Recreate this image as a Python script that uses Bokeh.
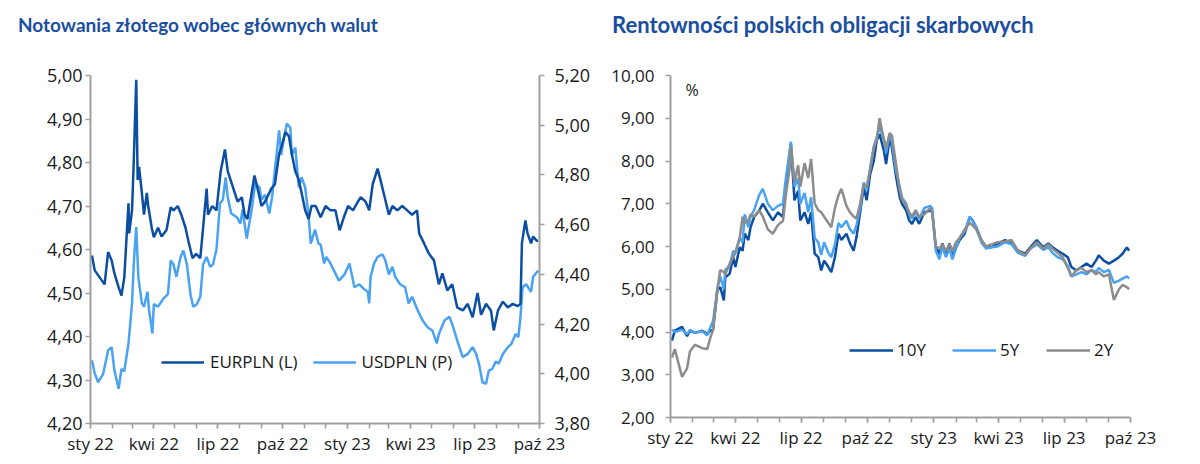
import pandas as pd
from bokeh.plotting import figure
from bokeh.layouts import row, column
from bokeh.models import (ColumnDataSource, Range1d, LinearAxis, FixedTicker, CustomJSTickFormatter,
                          Legend, LegendItem, Label, Div)
from bokeh.embed import file_html
from bokeh.resources import INLINE

# ---------------- data: left chart ----------------
eur_dates = ["2022-01-03", "2022-01-07", "2022-01-17", "2022-01-21", "2022-01-26", "2022-01-31", "2022-02-04",
             "2022-02-10", "2022-02-14", "2022-02-18", "2022-02-24", "2022-02-25", "2022-03-01", "2022-03-03",
             "2022-03-07", "2022-03-09", "2022-03-11", "2022-03-15", "2022-03-18", "2022-03-22", "2022-03-24",
             "2022-03-29", "2022-04-01", "2022-04-07", "2022-04-12", "2022-04-19", "2022-04-25", "2022-04-29",
             "2022-05-05", "2022-05-10", "2022-05-16", "2022-05-20", "2022-05-26", "2022-05-31", "2022-06-06",
             "2022-06-10", "2022-06-15", "2022-06-17", "2022-06-23", "2022-06-29", "2022-07-05", "2022-07-11",
             "2022-07-15", "2022-07-19", "2022-07-25", "2022-07-29", "2022-08-04", "2022-08-08", "2022-08-12",
             "2022-08-18", "2022-08-22", "2022-08-25", "2022-09-01", "2022-09-06", "2022-09-15", "2022-09-20",
             "2022-09-26", "2022-09-30", "2022-10-05", "2022-10-10", "2022-10-14", "2022-10-19", "2022-10-24",
             "2022-10-28", "2022-11-02", "2022-11-07", "2022-11-11", "2022-11-17", "2022-11-24", "2022-12-01",
             "2022-12-08", "2022-12-15", "2022-12-21", "2022-12-27",
             "2023-01-02", "2023-01-09", "2023-01-16", "2023-01-20", "2023-01-27", "2023-02-01", "2023-02-06",
             "2023-02-13", "2023-02-17", "2023-02-23", "2023-03-01", "2023-03-06", "2023-03-13", "2023-03-20",
             "2023-03-27", "2023-04-03", "2023-04-10", "2023-04-13", "2023-04-20", "2023-04-27", "2023-05-04",
             "2023-05-11", "2023-05-16", "2023-05-23", "2023-05-30", "2023-06-06", "2023-06-14", "2023-06-21",
             "2023-06-28", "2023-07-05", "2023-07-10", "2023-07-17", "2023-07-24", "2023-07-28", "2023-08-03",
             "2023-08-10", "2023-08-17", "2023-08-24", "2023-08-31", "2023-09-04", "2023-09-06", "2023-09-11",
             "2023-09-14", "2023-09-19", "2023-09-22", "2023-09-27", "2023-09-29"]
eurpln = [4.586, 4.552, 4.529, 4.52, 4.594, 4.575, 4.545,
          4.513, 4.494, 4.536, 4.706, 4.637, 4.69, 4.78,
          4.99, 4.76, 4.79, 4.73, 4.68, 4.73, 4.70,
          4.65, 4.628, 4.65, 4.63, 4.645, 4.697, 4.69,
          4.70, 4.68, 4.65, 4.62, 4.58, 4.59, 4.58,
          4.65, 4.74, 4.68, 4.70, 4.69, 4.78, 4.83,
          4.78, 4.76, 4.73, 4.71, 4.72, 4.68, 4.67,
          4.73, 4.77, 4.75, 4.70, 4.71, 4.74, 4.75,
          4.82, 4.84, 4.87, 4.86, 4.82, 4.78, 4.76,
          4.73, 4.69, 4.67, 4.70, 4.70, 4.674, 4.70,
          4.69, 4.69, 4.644, 4.674,
          4.70, 4.69, 4.71, 4.72, 4.71, 4.69, 4.75,
          4.786, 4.76, 4.72, 4.68, 4.70, 4.69, 4.70,
          4.69, 4.68, 4.69, 4.637, 4.614, 4.59, 4.575,
          4.52, 4.545, 4.506, 4.52, 4.467, 4.46, 4.475,
          4.444, 4.50, 4.45, 4.475, 4.46, 4.414, 4.46,
          4.48, 4.467, 4.475, 4.47, 4.475, 4.614, 4.667,
          4.637, 4.614, 4.63, 4.62, 4.62]

usd_dates = ["2022-01-03", "2022-01-07", "2022-01-12", "2022-01-19", "2022-01-26", "2022-01-31", "2022-02-04",
             "2022-02-10", "2022-02-14", "2022-02-18", "2022-02-24", "2022-03-01", "2022-03-04", "2022-03-07",
             "2022-03-10", "2022-03-15", "2022-03-18", "2022-03-23", "2022-03-25", "2022-03-30", "2022-04-01",
             "2022-04-07", "2022-04-14", "2022-04-21", "2022-04-25", "2022-04-29", "2022-05-03", "2022-05-09",
             "2022-05-13", "2022-05-18", "2022-05-23", "2022-05-27", "2022-06-01", "2022-06-06", "2022-06-10",
             "2022-06-15", "2022-06-20", "2022-06-24", "2022-06-29", "2022-07-04", "2022-07-08", "2022-07-12",
             "2022-07-15", "2022-07-20", "2022-07-28", "2022-08-02", "2022-08-05", "2022-08-11", "2022-08-18",
             "2022-08-23", "2022-08-29", "2022-09-01", "2022-09-06", "2022-09-12", "2022-09-16", "2022-09-20",
             "2022-09-26", "2022-09-29", "2022-10-03", "2022-10-07", "2022-10-12", "2022-10-14", "2022-10-19",
             "2022-10-24", "2022-10-28", "2022-11-02", "2022-11-07", "2022-11-10", "2022-11-16", "2022-11-21",
             "2022-11-24", "2022-11-29", "2022-12-02", "2022-12-08", "2022-12-13", "2022-12-20", "2022-12-28",
             "2023-01-04", "2023-01-11", "2023-01-18", "2023-01-25", "2023-01-30", "2023-02-01", "2023-02-03",
             "2023-02-08", "2023-02-13", "2023-02-20", "2023-02-24", "2023-03-01", "2023-03-06", "2023-03-10",
             "2023-03-17", "2023-03-24", "2023-03-29", "2023-04-03", "2023-04-11", "2023-04-18", "2023-04-25",
             "2023-05-02", "2023-05-08", "2023-05-11", "2023-05-19", "2023-05-26", "2023-05-30", "2023-06-06",
             "2023-06-14", "2023-06-21", "2023-06-28", "2023-07-03", "2023-07-07", "2023-07-12", "2023-07-17",
             "2023-07-21", "2023-07-26", "2023-07-31", "2023-08-04", "2023-08-10", "2023-08-17", "2023-08-22",
             "2023-08-28", "2023-09-01", "2023-09-04", "2023-09-07", "2023-09-12", "2023-09-19", "2023-09-22",
             "2023-09-29"]
usdpln = [4.054, 4.001, 3.966, 4.00, 4.094, 4.107, 4.013,
          3.94, 4.02, 4.01, 4.122, 4.283, 4.469, 4.59,
          4.389, 4.283, 4.27, 4.33, 4.26, 4.162, 4.28,
          4.27, 4.30, 4.32, 4.456, 4.44, 4.39, 4.47,
          4.496, 4.44, 4.32, 4.27, 4.28, 4.31, 4.44,
          4.47, 4.43, 4.44, 4.50, 4.685, 4.70, 4.79,
          4.71, 4.645, 4.63, 4.604, 4.66, 4.544, 4.66,
          4.766, 4.75, 4.70, 4.72, 4.645, 4.71, 4.818,
          4.979, 4.88, 4.95, 5.007, 4.99, 4.88, 4.91,
          4.75, 4.79, 4.75, 4.63, 4.524, 4.58, 4.524,
          4.52, 4.444, 4.47, 4.444, 4.415, 4.375, 4.40,
          4.444, 4.348, 4.36, 4.34, 4.33, 4.283, 4.39,
          4.444, 4.47, 4.48, 4.456, 4.40, 4.43, 4.39,
          4.36, 4.348, 4.283, 4.31, 4.255, 4.214, 4.187,
          4.173, 4.122, 4.16, 4.214, 4.23, 4.20, 4.134,
          4.067, 4.08, 4.107, 4.08, 4.04, 3.966, 3.96,
          4.013, 4.02, 4.05, 4.04, 4.08, 4.107, 4.12,
          4.16, 4.147, 4.23, 4.348, 4.36, 4.33, 4.39,
          4.415]

# ---------------- data: right chart ----------------
bond_dates = ["2022-01-03", "2022-01-07", "2022-01-17", "2022-01-24", "2022-01-28",
              "2022-02-04", "2022-02-14", "2022-02-21", "2022-02-25",
              "2022-03-01", "2022-03-07", "2022-03-11", "2022-03-16", "2022-03-18", "2022-03-24", "2022-03-29",
              "2022-04-01", "2022-04-07", "2022-04-11", "2022-04-14", "2022-04-19", "2022-04-22", "2022-04-27",
              "2022-05-04", "2022-05-09", "2022-05-16", "2022-05-23", "2022-05-30",
              "2022-06-06", "2022-06-10", "2022-06-15", "2022-06-17", "2022-06-22", "2022-06-27", "2022-06-30",
              "2022-07-06", "2022-07-11", "2022-07-15", "2022-07-20", "2022-07-25", "2022-07-29",
              "2022-08-02", "2022-08-08", "2022-08-12", "2022-08-17", "2022-08-22", "2022-08-26",
              "2022-09-02", "2022-09-07", "2022-09-12", "2022-09-16", "2022-09-21", "2022-09-26", "2022-09-30",
              "2022-10-05", "2022-10-10", "2022-10-14", "2022-10-18", "2022-10-24", "2022-10-27",
              "2022-11-01", "2022-11-04", "2022-11-10", "2022-11-15", "2022-11-18", "2022-11-24", "2022-11-28",
              "2022-12-02", "2022-12-07", "2022-12-12", "2022-12-19", "2022-12-27", "2022-12-30",
              "2023-01-04", "2023-01-09", "2023-01-13", "2023-01-18", "2023-01-23", "2023-01-27",
              "2023-02-01", "2023-02-06", "2023-02-13", "2023-02-20", "2023-02-24",
              "2023-03-01", "2023-03-08", "2023-03-15", "2023-03-22", "2023-03-31",
              "2023-04-10", "2023-04-19", "2023-04-28",
              "2023-05-08", "2023-05-15", "2023-05-24",
              "2023-06-02", "2023-06-09", "2023-06-15", "2023-06-22", "2023-06-29",
              "2023-07-06", "2023-07-11", "2023-07-18", "2023-07-25",
              "2023-08-01", "2023-08-08", "2023-08-14", "2023-08-18", "2023-08-25",
              "2023-09-01", "2023-09-08", "2023-09-15", "2023-09-20", "2023-09-26", "2023-09-29"]
y10 = [3.80, 4.03, 4.12, 3.90, 4.03,
       3.98, 4.03, 3.95, 4.03,
       4.05, 4.97, 5.05, 4.74, 5.28, 5.36, 5.75,
       5.52, 5.98, 5.90, 6.30, 6.15, 6.45, 6.69,
       6.84, 7.00, 6.80, 6.61, 6.80,
       6.69, 7.47, 8.09, 8.40, 7.08, 7.30, 6.61,
       6.80, 6.53, 6.80, 5.83, 5.75, 5.44,
       5.67, 5.52, 5.40, 5.75, 6.30, 6.15,
       6.30, 6.07, 5.90, 6.22, 6.80, 7.39, 7.08,
       7.70, 8.01, 8.48, 8.63, 8.24, 7.93,
       8.55, 8.32, 7.62, 7.15, 7.00, 6.84, 6.61,
       6.53, 6.69, 6.53, 6.80, 6.84, 6.80,
       5.98, 5.83, 6.07, 5.83, 6.07, 5.75,
       5.98, 6.15, 6.30, 6.69, 6.61,
       6.45, 6.15, 5.98, 5.98, 6.07,
       6.15, 6.07, 5.90,
       5.83, 5.98, 6.15,
       5.98, 6.07, 5.98, 5.90, 5.83,
       5.75, 5.52, 5.44, 5.52,
       5.60, 5.52, 5.67, 5.79, 5.67,
       5.60, 5.67, 5.75, 5.83, 5.98, 5.90]
y5 = [4.05, 4.00, 4.05, 3.95, 4.05,
      3.98, 4.02, 3.92, 4.10,
      4.25, 5.00, 5.30, 5.00, 5.45, 5.55, 5.90,
      5.85, 6.20, 6.10, 6.75, 6.45, 6.70, 6.85,
      7.20, 7.35, 7.00, 6.85, 6.95,
      7.00, 7.60, 8.20, 8.45, 7.40, 7.60, 7.00,
      7.25, 6.80, 7.15, 6.20, 6.10, 5.80,
      6.10, 5.85, 5.75, 6.05, 6.55, 6.45,
      6.60, 6.40, 6.30, 6.50, 6.90, 7.50, 7.30,
      7.85, 8.35, 8.55, 8.80, 8.50, 8.20,
      8.65, 8.45, 7.75, 7.40, 7.15, 7.00, 6.75,
      6.65, 6.80, 6.65, 6.90, 6.95, 6.90,
      5.90, 5.70, 6.00, 5.75, 5.95, 5.70,
      5.95, 6.20, 6.35, 6.70, 6.60,
      6.45, 6.10, 5.95, 5.98, 6.00,
      6.10, 6.05, 5.85,
      5.78, 5.95, 6.05,
      5.92, 5.98, 5.85, 5.75, 5.70,
      5.55, 5.30, 5.35, 5.40,
      5.35, 5.45, 5.40, 5.50, 5.40,
      5.45, 5.15, 5.20, 5.25, 5.30, 5.25]
y2 = [3.40, 3.60, 2.95, 3.15, 3.55,
      3.70, 3.62, 3.60, 3.85,
      4.05, 5.00, 5.45, 5.40, 5.35, 5.60, 5.75,
      5.85, 6.20, 6.70, 6.55, 6.60, 6.75, 6.70,
      6.85, 6.70, 6.40, 6.30, 6.50,
      6.60, 7.20, 7.80, 8.35, 7.50, 7.90, 7.40,
      7.95, 7.60, 8.05, 7.00, 6.85, 6.80,
      6.70, 6.55, 6.45, 6.90, 7.20, 7.35,
      6.95, 6.80, 6.70, 6.65, 7.00, 7.45, 7.40,
      7.80, 8.30, 8.50, 9.00, 8.50, 8.30,
      8.65, 8.60, 7.90, 7.30, 7.10, 6.95, 6.80,
      6.70, 6.85, 6.70, 6.75, 6.90, 6.80,
      6.00, 5.95, 6.05, 5.90, 6.05, 5.90,
      6.10, 6.20, 6.40, 6.55, 6.50,
      6.40, 6.15, 6.00, 6.05, 6.10,
      6.12, 6.15, 5.90,
      5.80, 5.95, 6.10,
      5.95, 6.05, 5.95, 5.85, 5.75,
      5.50, 5.30, 5.45, 5.50,
      5.40, 5.45, 5.35, 5.40, 5.30,
      5.35, 4.75, 5.00, 5.10, 5.05, 5.00]

month_names = ["sty", "lut", "mar", "kwi", "maj", "cze", "lip", "sie", "wrz", "paź", "lis", "gru"]
left_ticks = [4.2, 4.3, 4.4, 4.5, 4.6, 4.7, 4.8, 4.9, 5.0]
right_ticks = [3.8, 4.0, 4.2, 4.4, 4.6, 4.8, 5.0, 5.2]
yield_ticks = [2, 3, 4, 5, 6, 7, 8, 9, 10]

# ---------------- styling ----------------
DARK = "#0B4EA2"
LIGHT = "#4AA3F2"
GREY = "#8C8C8C"
TITLE_C = "#1A4E9E"
AXIS_C = "#A0A0A0"
TXT = "#1a1a1a"
FONT = "Open Sans"

x_start = pd.Timestamp("2022-01-01")
x_end = pd.Timestamp("2023-10-01")
months = pd.date_range(x_start, x_end, freq="MS")
quarters = [m for m in months if m.month in (1, 4, 7, 10)]
to_ms = lambda ts: ts.value // 10**6
major_ms = [to_ms(t) for t in quarters]
minor_ms = [to_ms(t) for t in months]

date_fmt = CustomJSTickFormatter(args=dict(names=month_names), code="""
const d = new Date(tick);
return names[d.getUTCMonth()] + " " + String(d.getUTCFullYear()).slice(2);
""")
dec_fmt = CustomJSTickFormatter(code="return tick.toFixed(2).replace('.', ',');")


def style_xaxis(ax):
    ax.ticker = FixedTicker(ticks=major_ms, minor_ticks=minor_ms)
    ax.formatter = date_fmt
    ax.axis_line_color = AXIS_C
    ax.axis_line_width = 2
    ax.major_tick_line_color = AXIS_C
    ax.minor_tick_line_color = AXIS_C
    ax.major_tick_line_width = 1.5
    ax.minor_tick_line_width = 1.5
    ax.major_tick_in = 0
    ax.major_tick_out = 5
    ax.minor_tick_in = 0
    ax.minor_tick_out = 5
    ax.major_label_text_font = FONT
    ax.major_label_text_font_size = "17px"
    ax.major_label_text_color = TXT
    ax.major_label_standoff = 3


def style_yaxis(ax, ticks, size, standoff):
    ax.ticker = FixedTicker(ticks=ticks)
    ax.formatter = dec_fmt
    ax.axis_line_color = AXIS_C
    ax.axis_line_width = 2
    ax.major_tick_line_color = AXIS_C
    ax.major_tick_line_width = 1.5
    ax.major_tick_in = 0
    ax.major_tick_out = 5
    ax.minor_tick_line_color = None
    ax.major_label_text_font = FONT
    ax.major_label_text_font_size = size
    ax.major_label_text_color = TXT
    ax.major_label_standoff = standoff


def title_div(text, left_pad, size):
    return Div(text=text, width=600, height=42, margin=0,
               styles={"font-family": "Lato", "font-weight": "bold", "font-size": size,
                       "color": TITLE_C, "padding-left": f"{left_pad}px", "padding-top": "13px",
                       "line-height": "24px", "white-space": "nowrap"})


# ---------------- left chart ----------------
eur_src = ColumnDataSource(dict(d=pd.to_datetime(eur_dates), v=eurpln))
usd_src = ColumnDataSource(dict(d=pd.to_datetime(usd_dates), v=usdpln))

p1 = figure(frame_width=449, frame_height=348, x_axis_type="datetime", output_backend="svg",
            toolbar_location=None, x_range=Range1d(x_start, x_end), y_range=Range1d(4.2, 5.0),
            min_border_left=90, min_border_right=61, min_border_top=33, min_border_bottom=20)
p1.extra_y_ranges = {"usd": Range1d(3.8, 5.2)}
p1.outline_line_color = None
p1.xgrid.visible = False
p1.ygrid.visible = False
style_xaxis(p1.xaxis[0])
style_yaxis(p1.yaxis[0], left_ticks, "18px", 3)
rax = LinearAxis(y_range_name="usd")
style_yaxis(rax, right_ticks, "18px", 10)
p1.add_layout(rax, "right")

r_eur = p1.line("d", "v", source=eur_src, line_color=DARK, line_width=2.5)
r_usd = p1.line("d", "v", source=usd_src, line_color=LIGHT, line_width=2.5, y_range_name="usd")
p1.renderers = [r_usd, r_eur]

leg1 = Legend(items=[LegendItem(label="EURPLN (L)", renderers=[r_eur]),
                     LegendItem(label="USDPLN (P)", renderers=[r_usd])],
              orientation="horizontal", location=(71, 50), background_fill_alpha=0, border_line_alpha=0,
              glyph_width=43, label_standoff=6, spacing=15, padding=0, margin=0,
              label_text_font=FONT, label_text_font_size="17px", label_text_color=TXT)
p1.add_layout(leg1)

# ---------------- right chart ----------------
bond_src = ColumnDataSource(dict(d=pd.to_datetime(bond_dates), y10=y10, y5=y5, y2=y2))

p2 = figure(frame_width=460, frame_height=342, x_axis_type="datetime", output_backend="svg",
            toolbar_location=None, x_range=Range1d(x_start, x_end), y_range=Range1d(2, 10),
            min_border_left=70, min_border_right=70, min_border_top=33, min_border_bottom=20)
p2.outline_line_color = None
p2.xgrid.visible = False
p2.ygrid.visible = False
style_xaxis(p2.xaxis[0])
style_yaxis(p2.yaxis[0], yield_ticks, "17px", 11)

r2 = p2.line("d", "y2", source=bond_src, line_color=GREY, line_width=2.5)
r5 = p2.line("d", "y5", source=bond_src, line_color=LIGHT, line_width=2.5)
r10 = p2.line("d", "y10", source=bond_src, line_color=DARK, line_width=2.5)
p2.renderers = [r10, r5, r2]

leg2 = Legend(items=[LegendItem(label="10Y", renderers=[r10]),
                     LegendItem(label="5Y", renderers=[r5]),
                     LegendItem(label="2Y", renderers=[r2])],
              orientation="horizontal", location=(179, 56), background_fill_alpha=0, border_line_alpha=0,
              glyph_width=44, label_standoff=4, spacing=26, padding=0, margin=0,
              label_text_font=FONT, label_text_font_size="17px", label_text_color=TXT)
p2.add_layout(leg2)
p2.add_layout(Label(x=pd.Timestamp("2022-01-31"), y=9.65, text="%", text_font=FONT,
                    text_font_size="16px", text_color=TXT, text_baseline="middle", text_align="center"))

left = column(title_div("Notowania złotego wobec głównych walut", 18, "19px"), p1, spacing=0)
right = column(title_div("Rentowności polskich obligacji skarbowych", 12, "22px"), p2, spacing=0)
layout = row(left, right, spacing=0)
open("out.html", "w").write(file_html(layout, INLINE))
